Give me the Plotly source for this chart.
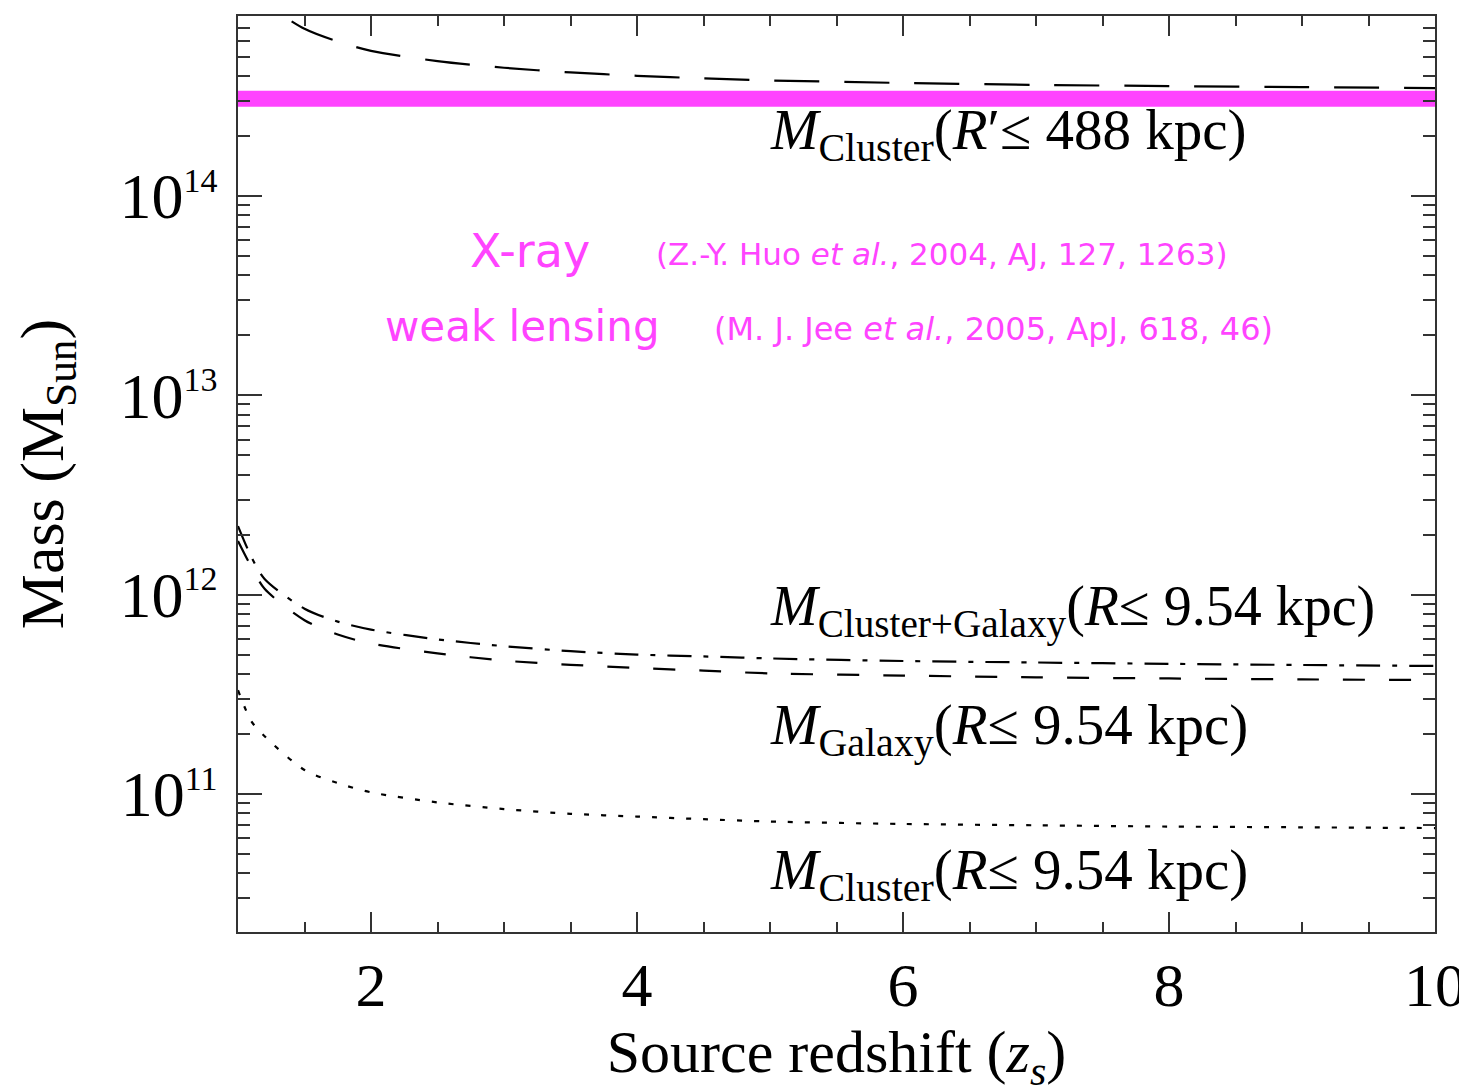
import plotly.graph_objects as go

# ---- data ----
z_source = [1.0, 1.1, 1.2, 1.5, 1.75, 2.0, 2.5, 3.0, 3.5, 4.0, 4.5, 5.0, 6.0, 7.0, 8.0, 9.0, 10.0]

m_cluster_488 = [1.26e15, 1.07e15, 9.3e14, 6.9e14, 5.96e14, 5.35e14, 4.75e14, 4.40e14, 4.17e14,
                 4.01e14, 3.89e14, 3.80e14, 3.69e14, 3.61e14, 3.56e14, 3.52e14, 3.48e14]
m_cluster_galaxy = [2.21e12, 1.55e12, 1.20e12, 8.51e11, 7.33e11, 6.68e11, 5.97e11, 5.52e11, 5.21e11,
                    5.01e11, 4.90e11, 4.79e11, 4.65e11, 4.57e11, 4.50e11, 4.44e11, 4.39e11]
m_galaxy = [1.86e12, 1.38e12, 1.07e12, 7.45e11, 6.31e11, 5.69e11, 5.08e11, 4.67e11, 4.45e11,
            4.29e11, 4.16e11, 4.03e11, 3.93e11, 3.85e11, 3.80e11, 3.76e11, 3.73e11]
m_cluster_954 = [3.32e11, 2.32e11, 1.95e11, 1.32e11, 1.135e11, 1.02e11, 9.08e10, 8.41e10, 7.96e10,
                 7.71e10, 7.48e10, 7.28e10, 7.08e10, 6.97e10, 6.87e10, 6.81e10, 6.75e10]

xray_z = [1.0, 10.0]
xray_mass_low = 2.80e14
xray_mass_high = 3.37e14

x_tick_vals = [2, 4, 6, 8, 10]
y_tick_vals = [1e11, 1e12, 1e13, 1e14]
y_tick_text = ["10<sup><span style='font-size:34px'>11</span></sup>",
               "10<sup><span style='font-size:34px'>12</span></sup>",
               "10<sup><span style='font-size:34px'>13</span></sup>",
               "10<sup><span style='font-size:34px'>14</span></sup>"]
y_minor_vals = [k * 10.0 ** e for e in range(10, 15) for k in range(2, 10)]

MAGENTA = "#ff44ff"
SERIF = "Liberation Serif"
SANS = "DejaVu Sans"

fig = go.Figure()

# X-ray / weak-lensing band
fig.add_trace(go.Scatter(x=xray_z, y=[xray_mass_low] * len(xray_z), mode="lines",
                         line=dict(width=0, color=MAGENTA), showlegend=False, hoverinfo="skip"))
fig.add_trace(go.Scatter(x=xray_z, y=[xray_mass_high] * len(xray_z), mode="lines",
                         line=dict(width=0, color=MAGENTA), fill="tonexty", fillcolor=MAGENTA,
                         showlegend=False, hoverinfo="skip"))

line_kw = dict(color="black", width=2.2, shape="spline", smoothing=0.8)
fig.add_trace(go.Scatter(x=z_source, y=m_cluster_488, mode="lines",
                         line=dict(dash="45px,25px", **line_kw), showlegend=False))
fig.add_trace(go.Scatter(x=z_source, y=m_cluster_galaxy, mode="lines",
                         line=dict(dash="24px,12px,5px,12px", **line_kw), showlegend=False))
fig.add_trace(go.Scatter(x=z_source, y=m_galaxy, mode="lines",
                         line=dict(dash="22px,24px", **line_kw), showlegend=False))
fig.add_trace(go.Scatter(x=z_source, y=m_cluster_954, mode="lines",
                         line=dict(dash="5px,12px", **line_kw), showlegend=False))

def ypaper(py):
    return 1 - (py - 8) / 916.0

def xpaper(px):
    return (px - 230) / 1197.0

annots = [
    ("<i>M</i><sub>Cluster</sub>(<i>R</i>′≤ 488 kpc)", 760, 126, SERIF, 57, "black"),
    ("<i>M</i><sub>Cluster+Galaxy</sub>(<i>R</i>≤ 9.54 kpc)", 760, 602, SERIF, 56, "black"),
    ("<i>M</i><sub>Galaxy</sub>(<i>R</i>≤ 9.54 kpc)", 760, 721, SERIF, 57, "black"),
    ("<i>M</i><sub>Cluster</sub>(<i>R</i>≤ 9.54 kpc)", 760, 866, SERIF, 57, "black"),
    ("X-ray", 460, 243, SANS, 46, MAGENTA),
    ("(Z.-Y. Huo <i>et al.</i>, 2004, AJ, 127, 1263)", 646, 246, SANS, 31, MAGENTA),
    ("weak lensing", 375, 319, SANS, 42, MAGENTA),
    ("(M. J. Jee <i>et al.</i>, 2005, ApJ, 618, 46)", 704, 321, SANS, 32, MAGENTA),
]
for text, px, py, fam, size, col in annots:
    fig.add_annotation(text=text, xref="paper", yref="paper", x=xpaper(px), y=ypaper(py),
                       xanchor="left", yanchor="middle", showarrow=False,
                       font=dict(family=fam, size=size, color=col))

axis_common = dict(showline=True, linecolor="#333333", linewidth=1.5, mirror="ticks",
                   ticks="inside", tickcolor="#333333", tickwidth=1.5, showgrid=False,
                   zeroline=False, automargin=False)

fig.update_xaxes(range=[1, 10], tickvals=x_tick_vals, ticklen=20,
                 tickfont=dict(family=SERIF, size=62, color="black"),
                 ticklabelstandoff=-2,
                 minor=dict(dtick=0.5, tick0=1, ticks="inside", ticklen=10,
                            tickcolor="#333333", tickwidth=1.5, showgrid=False),
                 title=dict(text="Source redshift (<i>z</i><sub><i>s</i></sub>)",
                            font=dict(family=SERIF, size=60, color="black"), standoff=0),
                 **axis_common)

fig.update_yaxes(type="log", range=[10.308, 14.903], tickvals=y_tick_vals, ticktext=y_tick_text,
                 ticklen=24,
                 tickfont=dict(family=SERIF, size=64, color="black"),
                 ticklabelstandoff=6,
                 minor=dict(tickvals=y_minor_vals, ticks="inside", ticklen=12,
                            tickcolor="#333333", tickwidth=1.5, showgrid=False),
                 title=dict(text="Mass (M<sub>Sun</sub>)",
                            font=dict(family=SERIF, size=62, color="black"), standoff=40),
                 **axis_common)

fig.update_layout(width=1467, height=1090, autosize=False,
                  margin=dict(l=230, r=40, t=8, b=166),
                  paper_bgcolor="white", plot_bgcolor="white", showlegend=False)

fig.write_html("out.html")
